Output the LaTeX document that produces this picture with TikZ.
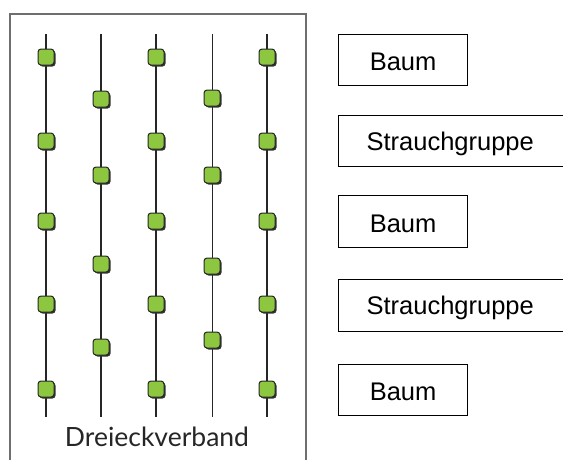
\documentclass[tikz,border=0pt]{standalone}
\usepackage{fontspec}
\setmainfont{Liberation Sans}
\newfontfamily\labelfont{Lato}
\definecolor{leaf}{HTML}{8DC63F}
\definecolor{framegray}{HTML}{6E6E6E}
\begin{document}
\begin{tikzpicture}[x=1pt,y=-1pt,
  plant/.style={draw=black!85,line width=1pt,fill=leaf,rounded corners=3pt,
    minimum width=16pt,minimum height=16pt,inner sep=0pt},
  shade/.style={fill=black!80,rounded corners=3pt,minimum width=16pt,minimum height=16pt,inner sep=0pt},
  row/.style={line width=2pt,black!85},
  thinrow/.style={line width=1pt,black!85},
  legend/.style={draw=black,line width=1.2pt,anchor=north west,inner sep=0pt,
    font=\fontsize{25.5}{28}\selectfont},
  treebox/.style={legend,minimum width=129pt,text height=24pt,text depth=2pt},
  shrubbox/.style={legend,minimum width=240pt,text width=210pt,align=left,
    text height=21pt,text depth=3pt}]
\useasboundingbox (0,0) rectangle (563,459);
\begin{scope}
\clip (0,0) rectangle (563,459);
% frame around the planting scheme
\draw[framegray,line width=1.3pt] (10,14) rectangle (306,470);

% planting rows
\foreach \c/\x/\s in {1/46/row,2/101/row,3/156/row,4/212/thinrow,5/267/row}{
  \coordinate (top\c) at (\x,34);
  \coordinate (bot\c) at (\x,417);
  \draw[\s] (top\c) -- (bot\c);
}

% plants: full rows and offset rows
\foreach \c/\x in {1/46,3/156,5/267}{
  \foreach \y [count=\i] in {57,141,221,304,389}{
    \node[shade] (s\c\i) at (\x+1.5,\y+1.5) {};
    \node[plant] (p\c\i) at (\x,\y) {};
  }
}
\foreach \y [count=\i] in {99,175,264,347}{
  \node[shade] (s2\i) at (101+1.5,\y+1.5) {};
  \node[plant] (p2\i) at (101,\y) {};
}
\foreach \y [count=\i] in {98,175,266,340}{
  \node[shade] (s4\i) at (212+1.5,\y+1.5) {};
  \node[plant] (p4\i) at (212,\y) {};
}

\node[font=\labelfont\fontsize{26.5}{28}\selectfont,text=black!85] (title) at (157,437) {Dreieckverband};

% legend boxes
\node[treebox,minimum height=51pt] (b1) at (338,33.5) {Baum};
\node[shrubbox,minimum height=51pt] (g1) at (338,115) {\hspace{13pt}Strauchgruppe};
\node[treebox,minimum height=52pt] (b2) at (338,194.5) {Baum};
\node[shrubbox,minimum height=52pt] (g2) at (338,278.5) {\hspace{13pt}Strauchgruppe};
\node[treebox,minimum height=51pt] (b3) at (338,363.5) {Baum};
\end{scope}
\end{tikzpicture}
\end{document}
